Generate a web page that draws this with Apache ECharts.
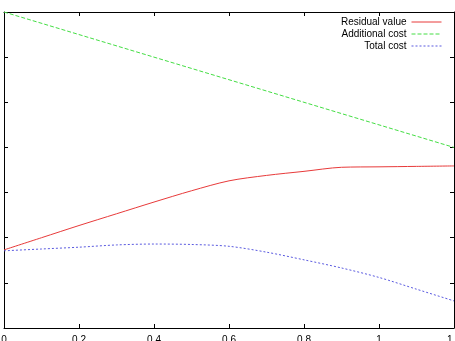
<!DOCTYPE html>
<html>
<head>
<meta charset="utf-8">
<script src="https://cdn.jsdelivr.net/npm/echarts@6/dist/echarts.min.js"></script>
<style>html,body{margin:0;padding:0;background:#fff}#c{width:455px;height:341px}</style>
</head>
<body>
<div id="c"></div>
<script>
const xValues = [0, 0.1, 0.2, 0.3, 0.4, 0.5, 0.6, 0.7, 0.8, 0.9, 1.0, 1.1, 1.2];
const residualValue = [1.73, 2.00, 2.27, 2.53, 2.79, 3.04, 3.26, 3.38, 3.47, 3.56, 3.57, 3.58, 3.59];
const totalCost = [1.71, 1.75, 1.79, 1.84, 1.86, 1.85, 1.81, 1.68, 1.51, 1.33, 1.12, 0.86, 0.60];
const additionalX = [0, 1.2];
const additionalCost = [7.0, 4.0];
const xTicks = [0, 0.2, 0.4, 0.6, 0.8, 1, 1.2];
const seriesNames = ['Residual value', 'Additional cost', 'Total cost'];

const zip = (xs, ys) => xs.map((x, i) => [x, ys[i]]);
const font = 'Liberation Sans, Arial, sans-serif';

const chart = echarts.init(document.getElementById('c'), null, {renderer: 'canvas'});
const axisLine = {show: true, onZero: false, lineStyle: {color: '#000', width: 1}};
const axisTick = {show: true, inside: true, length: 4, lineStyle: {color: '#000', width: 1}};
chart.setOption({
  animation: false,
  backgroundColor: '#fff',
  grid: {left: 4, right: 1, top: 12, bottom: 13, containLabel: false, outerBoundsMode: 'none'},
  legend: {
    orient: 'vertical', align: 'right', right: 13, top: 17, padding: 0,
    itemWidth: 30, itemHeight: 8, itemGap: 2,
    itemStyle: {opacity: 0},
    lineStyle: {width: 1},
    textStyle: {fontSize: 10, fontFamily: font, color: '#000'},
    data: seriesNames
  },
  xAxis: [
    {type: 'value', position: 'bottom', min: 0, max: 1.2, interval: 0.2,
     axisLine, axisTick, splitLine: {show: false},
     axisLabel: {show: true, margin: 7, fontSize: 10, fontFamily: font, color: '#000',
       showMinLabel: true, showMaxLabel: true, alignMinLabel: 'center', alignMaxLabel: 'center',
       formatter: v => xTicks.includes(Math.round(v * 10) / 10) ? String(Math.round(v * 10) / 10) : ''}},
    {type: 'value', position: 'top', min: 0, max: 1.2, interval: 0.2,
     axisLine, axisTick, splitLine: {show: false}, axisLabel: {show: false}}
  ],
  yAxis: [
    {type: 'value', position: 'left', min: 0, max: 7, interval: 1,
     axisLine, axisTick, splitLine: {show: false}, axisLabel: {show: false}},
    {type: 'value', position: 'right', min: 0, max: 7, interval: 1,
     axisLine, axisTick, splitLine: {show: false}, axisLabel: {show: false}}
  ],
  series: [
    {name: seriesNames[0], type: 'line', data: zip(xValues, residualValue), smooth: 0.3,
     symbol: 'none', color: '#e83a3a', lineStyle: {color: '#e83a3a', width: 1, type: 'solid'}},
    {name: seriesNames[1], type: 'line', data: zip(additionalX, additionalCost),
     symbol: 'none', color: '#44dd44', lineStyle: {color: '#44dd44', width: 1, type: [4, 2]}},
    {name: seriesNames[2], type: 'line', data: zip(xValues, totalCost), smooth: 0.3,
     symbol: 'none', color: '#5a5ae0', lineStyle: {color: '#5a5ae0', width: 1, type: [2, 2]}}
  ]
});
</script>
</body>
</html>
